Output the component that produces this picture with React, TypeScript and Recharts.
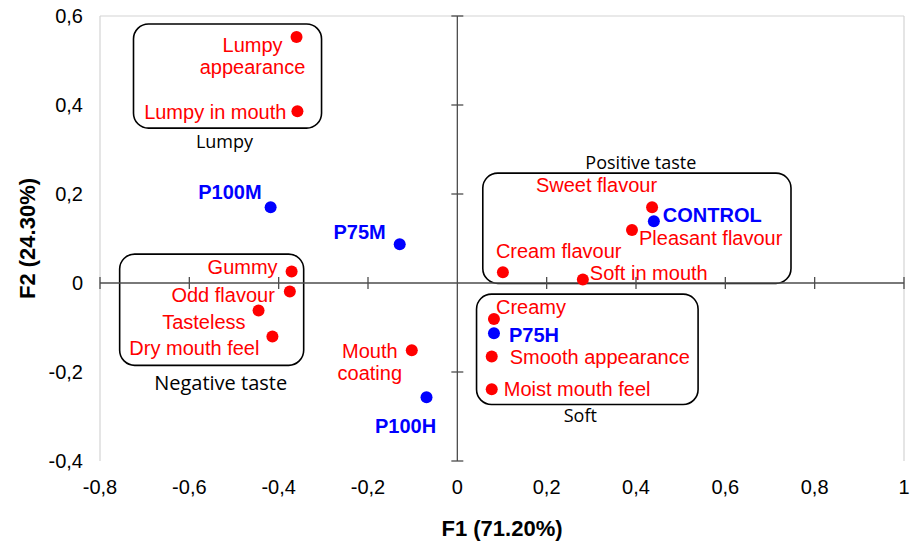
import React from 'react';
import { ScatterChart, Scatter, XAxis, YAxis, ReferenceLine, ReferenceArea } from 'recharts';

// Sensory attributes (red) – F1 / F2 coordinates
const ATTRIBUTES = [
  'Lumpy appearance', 'Lumpy in mouth', 'Gummy', 'Odd flavour', 'Tasteless', 'Dry mouth feel',
  'Mouth coating', 'Sweet flavour', 'Pleasant flavour', 'Cream flavour', 'Soft in mouth',
  'Creamy', 'Smooth appearance', 'Moist mouth feel',
];
const ATTR_F1 = [-0.36, -0.358, -0.371, -0.375, -0.445, -0.414, -0.102, 0.436, 0.391, 0.102, 0.281, 0.082, 0.077, 0.077];
const ATTR_F2 = [0.553, 0.386, 0.026, -0.019, -0.062, -0.12, -0.151, 0.17, 0.119, 0.024, 0.008, -0.081, -0.165, -0.239];

// Products (blue)
const PRODUCTS = ['P100M', 'P75M', 'CONTROL', 'P75H', 'P100H'];
const PROD_F1 = [-0.418, -0.129, 0.44, 0.082, -0.069];
const PROD_F2 = [0.17, 0.087, 0.139, -0.113, -0.257];

// Grouping boxes
const GROUPS = ['Lumpy', 'Positive taste', 'Negative taste', 'Soft'];
const GROUP_F1 = [[-0.725, -0.304], [0.057, 0.747], [-0.756, -0.344], [0.043, 0.539]];
const GROUP_F2 = [[0.348, 0.582], [-0.001, 0.247], [-0.185, 0.065], [-0.273, -0.025]];

const X_TICKS = [-0.8, -0.6, -0.4, -0.2, 0, 0.2, 0.4, 0.6, 0.8, 1];
const Y_TICKS = [-0.4, -0.2, 0, 0.2, 0.4, 0.6];

const attrData = ATTRIBUTES.map((name, i) => ({ name, x: ATTR_F1[i], y: ATTR_F2[i] }));
const prodData = PRODUCTS.map((name, i) => ({ name, x: PROD_F1[i], y: PROD_F2[i] }));

const FONT = '"Liberation Sans", Arial, sans-serif';
const CAPTION_FONT = '"Open Sans", sans-serif';
const RED = '#ff0000';
const BLUE = '#0000ff';

type Place = { dx: number; dy: number; anchor: 'start' | 'middle' | 'end'; split?: boolean };

// where each point's label sits relative to the dot
const LABEL_PLACE: Record<string, Place> = {
  'Lumpy appearance': { dx: -44, dy: 8, anchor: 'middle', split: true },
  'Lumpy in mouth': { dx: -11, dy: 1, anchor: 'end' },
  Gummy: { dx: -14, dy: -4, anchor: 'end' },
  'Odd flavour': { dx: -15, dy: 4, anchor: 'end' },
  Tasteless: { dx: -13, dy: 11, anchor: 'end' },
  'Dry mouth feel': { dx: -13, dy: 12, anchor: 'end' },
  'Mouth coating': { dx: -42, dy: 1, anchor: 'middle', split: true },
  'Sweet flavour': { dx: 5, dy: -22, anchor: 'end' },
  'Pleasant flavour': { dx: 7, dy: 8, anchor: 'start' },
  'Cream flavour': { dx: -7, dy: -21, anchor: 'start' },
  'Soft in mouth': { dx: 7, dy: -6, anchor: 'start' },
  Creamy: { dx: 2, dy: -12, anchor: 'start' },
  'Smooth appearance': { dx: 18, dy: 1, anchor: 'start' },
  'Moist mouth feel': { dx: 12, dy: 0, anchor: 'start' },
  P100M: { dx: -9, dy: -15, anchor: 'end' },
  P75M: { dx: -14, dy: -12, anchor: 'end' },
  CONTROL: { dx: 9, dy: -6, anchor: 'start' },
  P75H: { dx: 15, dy: 2, anchor: 'start' },
  P100H: { dx: -21, dy: 29, anchor: 'middle' },
};

// caption placement for each grouping box
const CAPTION_PLACE: Record<string, { side: 'top' | 'bottom'; dx: number; gap: number; size: number }> = {
  Lumpy: { side: 'bottom', dx: -3, gap: 13, size: 18 },
  'Positive taste': { side: 'top', dx: 4, gap: -11, size: 18 },
  'Negative taste': { side: 'bottom', dx: 9, gap: 17, size: 20 },
  Soft: { side: 'bottom', dx: -7, gap: 11, size: 18 },
};

const fmt = (v: number) => String(v).replace('.', ',');

const makeDot = (color: string, bold: boolean) => (props: any) => {
  const { cx, cy, payload } = props;
  const place = LABEL_PLACE[payload.name] || { dx: 8, dy: 0, anchor: 'start' };
  const lines = place.split ? payload.name.split(' ') : [payload.name];
  return (
    <g>
      <circle cx={cx} cy={cy} r={6} fill={color} />
      {lines.map((line: string, i: number) => (
        <text
          key={i}
          x={cx + place.dx}
          y={cy + place.dy + i * 22}
          textAnchor={place.anchor}
          dominantBaseline="central"
          fill={color}
          fontFamily={FONT}
          fontSize={20}
          fontWeight={bold ? 'bold' : 'normal'}
        >
          {line}
        </text>
      ))}
    </g>
  );
};

const makeBox = (name: string) => (props: any) => {
  const { x, y, width, height } = props;
  const c = CAPTION_PLACE[name];
  const ty = c.side === 'bottom' ? y + height + c.gap : y + c.gap;
  return (
    <g>
      <rect x={x} y={y} width={width} height={height} rx={15} ry={15} fill="none" stroke="#000" strokeWidth={1.6} />
      <text
        x={x + width / 2 + c.dx}
        y={ty}
        textAnchor="middle"
        dominantBaseline="central"
        fontFamily={CAPTION_FONT}
        fontSize={c.size}
        fill="#000"
      >
        {name}
      </text>
    </g>
  );
};

const XTick = (props: any) => {
  const { x, payload } = props;
  return (
    <text x={x} y={487} textAnchor="middle" dominantBaseline="central" fontFamily={FONT} fontSize={20} fill="#000">
      {fmt(payload.value)}
    </text>
  );
};

const YTick = (props: any) => {
  const { y, payload } = props;
  return (
    <text x={83} y={y} textAnchor="end" dominantBaseline="central" fontFamily={FONT} fontSize={20} fill="#000">
      {fmt(payload.value)}
    </text>
  );
};

const TICK_X = 0.0134;
const TICK_Y = 0.0135;

export default function App() {
  return (
    <div style={{ position: 'absolute', left: 0, top: 0, width: 911, height: 541, background: '#fff' }}>
      <ScatterChart width={911} height={541} margin={{ top: 16, right: 7, bottom: 0, left: 0 }}>
        <XAxis
          type="number"
          dataKey="x"
          domain={[-0.8, 1]}
          ticks={X_TICKS}
          axisLine={false}
          tickLine={false}
          tick={<XTick />}
          height={80}
          label={{
            content: (p: any) => {
              const vb = p.viewBox;
              return (
                <text x={vb.x + vb.width / 2} y={528} textAnchor="middle" dominantBaseline="central"
                  fontFamily={FONT} fontSize={22} fontWeight="bold" fill="#000">
                  F1 (71.20%)
                </text>
              );
            },
          }}
        />
        <YAxis
          type="number"
          dataKey="y"
          domain={[-0.4, 0.6]}
          ticks={Y_TICKS}
          axisLine={false}
          tickLine={false}
          tick={<YTick />}
          width={100}
          label={{
            content: (p: any) => {
              const vb = p.viewBox;
              const cy = vb.y + vb.height / 2;
              return (
                <text x={27} y={cy} transform={`rotate(-90, 27, ${cy})`} textAnchor="middle" dominantBaseline="central"
                  fontFamily={FONT} fontSize={22} fontWeight="bold" fill="#000">
                  F2 (24.30%)
                </text>
              );
            },
          }}
        />

        {/* plot frame: left, top, right */}
        <ReferenceLine x={-0.8} stroke="#d4d4d4" strokeWidth={1.2} />
        <ReferenceLine x={1} stroke="#d4d4d4" strokeWidth={1.2} />
        <ReferenceLine y={0.6} stroke="#d4d4d4" strokeWidth={1.2} />

        {/* axes through the origin with tick crosses */}
        <ReferenceLine x={0} stroke="#4d4d4d" strokeWidth={1.3} />
        <ReferenceLine y={0} stroke="#4d4d4d" strokeWidth={1.3} />
        {X_TICKS.filter((t) => t !== 0).map((t) => (
          <ReferenceLine key={`xt${t}`} segment={[{ x: t, y: -TICK_Y }, { x: t, y: TICK_Y }]} stroke="#4d4d4d" strokeWidth={1.3} />
        ))}
        {Y_TICKS.filter((t) => t !== 0).map((t) => (
          <ReferenceLine key={`yt${t}`} segment={[{ x: -TICK_X, y: t }, { x: TICK_X, y: t }]} stroke="#4d4d4d" strokeWidth={1.3} />
        ))}

        {GROUPS.map((g, i) => (
          <ReferenceArea
            key={g}
            x1={GROUP_F1[i][0]}
            x2={GROUP_F1[i][1]}
            y1={GROUP_F2[i][0]}
            y2={GROUP_F2[i][1]}
            shape={makeBox(g)}
          />
        ))}

        <Scatter data={attrData} fill={RED} shape={makeDot(RED, false)} isAnimationActive={false} />
        <Scatter data={prodData} fill={BLUE} shape={makeDot(BLUE, true)} isAnimationActive={false} />
      </ScatterChart>
    </div>
  );
}
